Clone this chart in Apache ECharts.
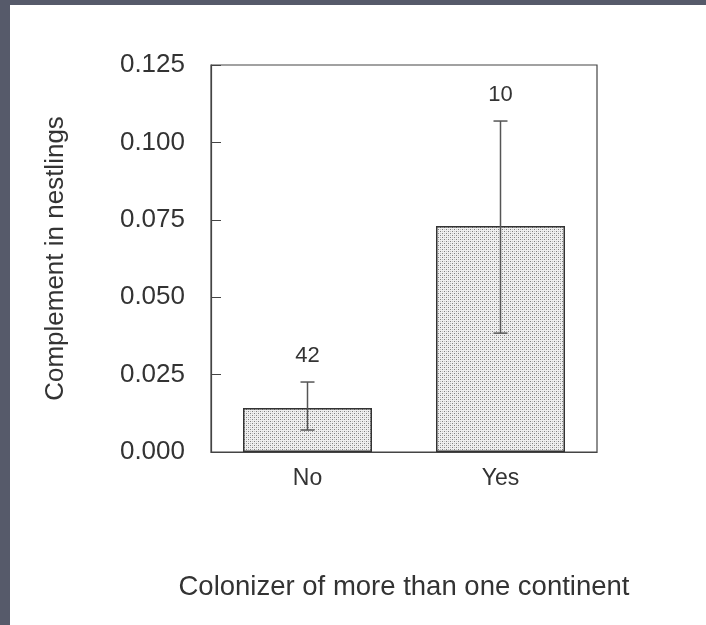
<!DOCTYPE html>
<html>
<head>
<meta charset="utf-8">
<script src="https://cdn.jsdelivr.net/npm/echarts@6/dist/echarts.min.js"></script>
<style>
html,body{margin:0;padding:0;width:706px;height:625px;background:#565a6a;overflow:hidden;}
#c{position:absolute;left:10px;top:5px;width:696px;height:620px;background:#fff;}
</style>
</head>
<body>
<div id="c"></div>
<script>
var categories = ['No', 'Yes'];
var means = [0.0142, 0.0730];
var errLow = [0.0071, 0.0384];
var errHigh = [0.0226, 0.1069];
var nLabels = ['42', '10'];
var yMin = 0, yMax = 0.125, yStep = 0.025;

var tile = document.createElement('canvas');
tile.width = 4; tile.height = 4;
var tc = tile.getContext('2d');
tc.fillStyle = '#f0f0f0'; tc.fillRect(0,0,4,4);
tc.fillStyle = '#808080'; tc.fillRect(0,0,1,1); tc.fillRect(2,2,1,1);
tc.fillStyle = '#c4c4c4'; tc.fillRect(2,0,1,1); tc.fillRect(0,2,1,1);

var chart = echarts.init(document.getElementById('c'));
var txt = '#333';
var font = 'Liberation Sans';
chart.setOption({
  animation: false,
  grid: {left: 201, right: 109, top: 60, bottom: 173, show: true, borderColor: '#444', borderWidth: 1.2, backgroundColor: 'transparent'},
  xAxis: {
    type: 'category', data: categories,
    name: 'Colonizer of more than one continent', nameLocation: 'middle', nameGap: 121,
    nameTextStyle: {color: txt, fontSize: 27.5, fontFamily: font},
    axisLine: {lineStyle: {color: '#444', width: 1.2}},
    axisTick: {alignWithLabel: true, length: 8, lineStyle: {color: '#444'}},
    axisLabel: {color: txt, fontSize: 23, fontFamily: font, margin: 15}
  },
  yAxis: {
    type: 'value', min: yMin, max: yMax, interval: yStep,
    name: 'Complement in nestlings', nameLocation: 'middle', nameGap: 142, nameRotate: 90,
    nameTextStyle: {color: txt, fontSize: 26, fontFamily: font},
    axisLine: {show: true, lineStyle: {color: '#444', width: 1.2}},
    axisTick: {show: true, inside: true, length: 10, lineStyle: {color: '#444'}},
    splitLine: {show: false},
    axisLabel: {color: txt, fontSize: 26, fontFamily: font, margin: 26, formatter: function(v){return v.toFixed(3);}}
  },
  series: [{
    type: 'bar', data: means, barWidth: 129,
    itemStyle: {color: {image: tile, repeat: 'repeat'}, borderColor: '#333', borderWidth: 1.5}
  }, {
    type: 'custom',
    data: categories.map(function(c, i){ return [i, errLow[i], errHigh[i]]; }),
    renderItem: function(params, api){
      var i = api.value(0);
      var lo = api.coord([i, api.value(1)]);
      var hi = api.coord([i, api.value(2)]);
      var cw = 7;
      var st = {stroke: '#555', lineWidth: 1.5};
      return {type: 'group', children: [
        {type: 'line', shape: {x1: lo[0], y1: lo[1], x2: hi[0], y2: hi[1]}, style: st},
        {type: 'line', shape: {x1: hi[0]-cw, y1: hi[1], x2: hi[0]+cw, y2: hi[1]}, style: st},
        {type: 'line', shape: {x1: lo[0]-cw, y1: lo[1], x2: lo[0]+cw, y2: lo[1]}, style: st},
        {type: 'text', x: hi[0], y: hi[1] - 26, style: {text: nLabels[params.dataIndex], fill: txt, fontSize: 22, fontFamily: font, align: 'center', verticalAlign: 'middle'}}
      ]};
    },
    z: 5
  }]
});
</script>
</body>
</html>
